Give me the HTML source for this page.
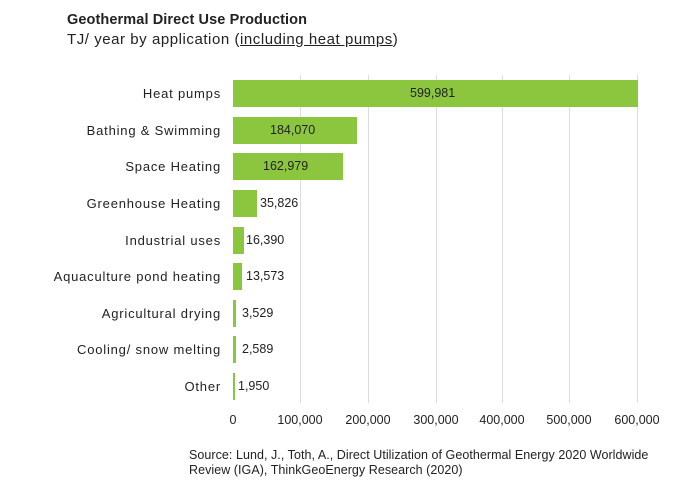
<!DOCTYPE html>
<html><head><style>
body{margin:0;width:688px;height:495px;background:#fff;font-family:"Liberation Sans",sans-serif;color:#222;position:relative;overflow:hidden}
.a{position:absolute;white-space:nowrap}
.g{position:absolute;top:75px;height:328px;width:1px;background:#ddd}
.b{position:absolute;left:233px;height:27px;background:#8cc63f}
.l{position:absolute;right:467px;font-size:13px;line-height:27px;text-align:right;letter-spacing:0.8px;white-space:nowrap}
.v{position:absolute;font-size:12.5px;line-height:27px}
.t{position:absolute;top:413px;font-size:12.5px;transform:translateX(-50%)}
</style></head><body>
<div class="a" style="left:67px;top:12px;font-size:14.5px;font-weight:bold;letter-spacing:0.1px">Geothermal Direct Use Production</div>
<div class="a" style="left:67px;top:31px;font-size:15px;letter-spacing:0.55px">TJ/ year by application (<u>including heat pumps</u>)</div>
<div class="g" style="left:300px"></div><div class="g" style="left:368px"></div><div class="g" style="left:436px"></div><div class="g" style="left:502px"></div><div class="g" style="left:569px"></div><div class="g" style="left:637px"></div>

<div class="b" style="top:80px;width:405px"></div><div class="l" style="top:80px">Heat pumps</div><div class="v" style="top:80px;left:410px">599,981</div>
<div class="b" style="top:117px;width:124px"></div><div class="l" style="top:117px">Bathing &amp; Swimming</div><div class="v" style="top:117px;left:270px">184,070</div>
<div class="b" style="top:153px;width:110px"></div><div class="l" style="top:153px">Space Heating</div><div class="v" style="top:153px;left:263px">162,979</div>
<div class="b" style="top:190px;width:24px"></div><div class="l" style="top:190px">Greenhouse Heating</div><div class="v" style="top:190px;left:260px">35,826</div>
<div class="b" style="top:227px;width:11px"></div><div class="l" style="top:227px">Industrial uses</div><div class="v" style="top:227px;left:246px">16,390</div>
<div class="b" style="top:263px;width:9px"></div><div class="l" style="top:263px">Aquaculture pond heating</div><div class="v" style="top:263px;left:246px">13,573</div>
<div class="b" style="top:300px;width:3px"></div><div class="l" style="top:300px">Agricultural drying</div><div class="v" style="top:300px;left:242px">3,529</div>
<div class="b" style="top:336px;width:3px"></div><div class="l" style="top:336px">Cooling/ snow melting</div><div class="v" style="top:336px;left:242px">2,589</div>
<div class="b" style="top:373px;width:2px"></div><div class="l" style="top:373px">Other</div><div class="v" style="top:373px;left:238px">1,950</div>

<div class="t" style="left:233px">0</div><div class="t" style="left:300px">100,000</div><div class="t" style="left:368px">200,000</div><div class="t" style="left:436px">300,000</div><div class="t" style="left:502px">400,000</div><div class="t" style="left:569px">500,000</div><div class="t" style="left:637px">600,000</div>
<div class="a" style="left:189px;top:448px;font-size:12.5px;line-height:15px;letter-spacing:0.05px">Source: Lund, J., Toth, A., Direct Utilization of Geothermal Energy 2020 Worldwide<br>Review (IGA), ThinkGeoEnergy Research (2020)</div>
</body></html>
